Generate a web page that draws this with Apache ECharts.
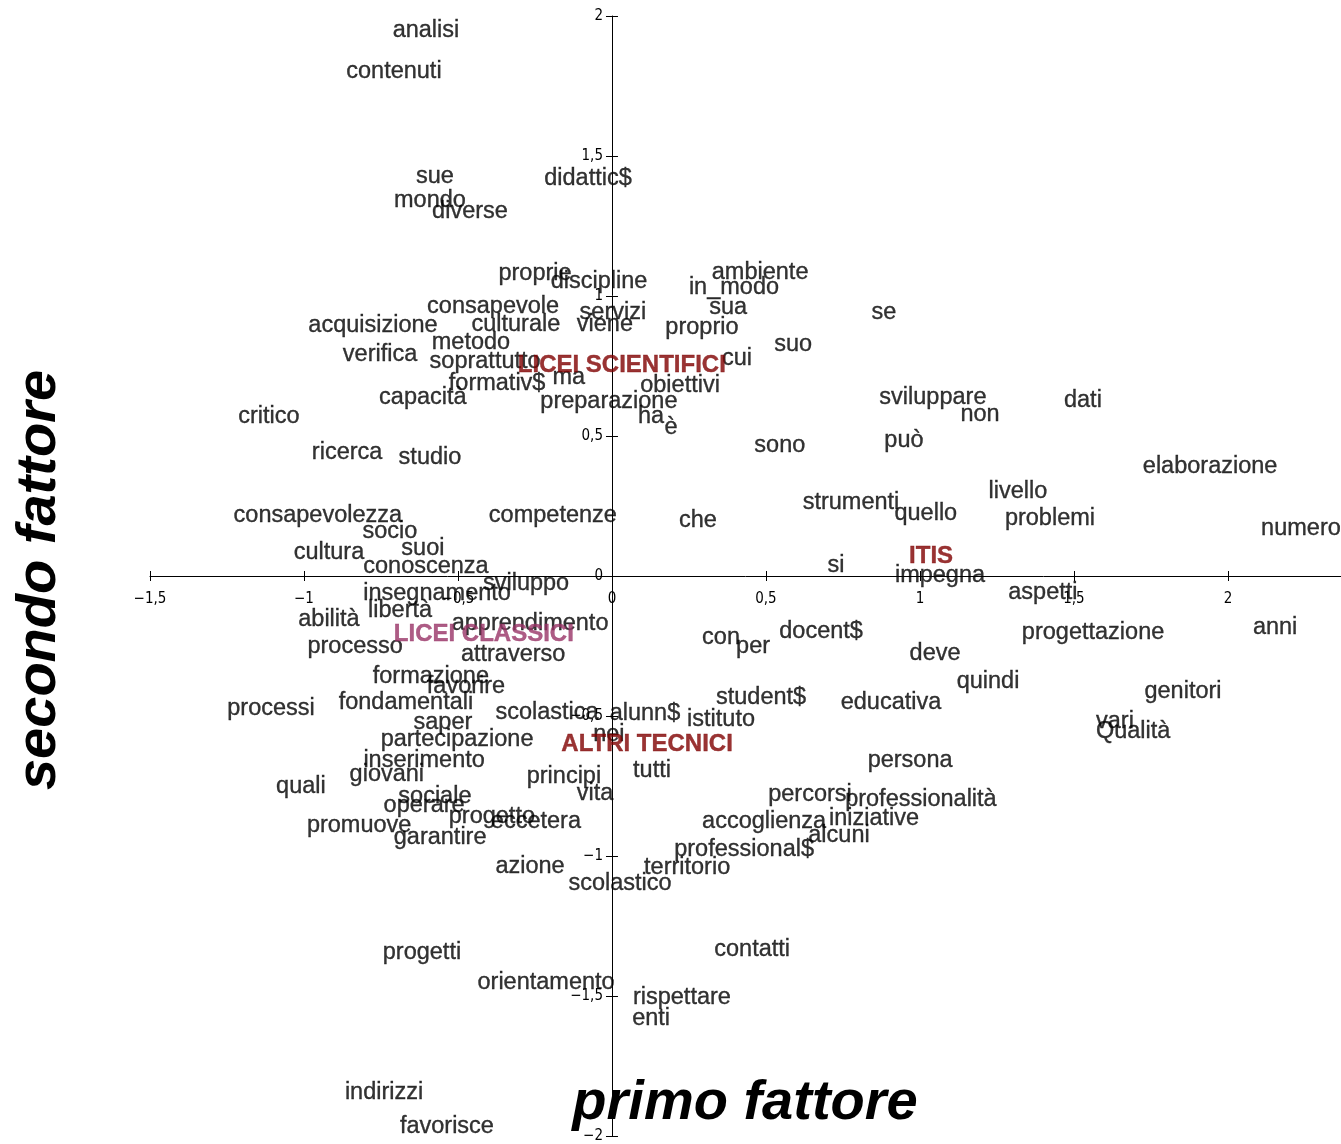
<!DOCTYPE html>
<html>
<head>
<meta charset="utf-8">
<script src="https://cdn.jsdelivr.net/npm/echarts@6/dist/echarts.min.js"></script>
<style>
html, body { margin: 0; padding: 0; background: #ffffff; }
#chart { width: 1341px; height: 1144px; }
</style>
</head>
<body>
<div id="chart"></div>
<script>
// Words projected on the first two factors
const words = [
  'analisi', 'contenuti', 'sue', 'didattic$', 'mondo', 'diverse',
  'proprie', 'discipline', 'ambiente', 'in_modo', 'consapevole', 'servizi',
  'sua', 'se', 'acquisizione', 'culturale', 'viene', 'proprio',
  'metodo', 'suo', 'verifica', 'soprattutto', 'cui', 'formativ$',
  'ma', 'obiettivi', 'capacità', 'preparazione', 'sviluppare', 'dati',
  'critico', 'non', 'ha', 'è', 'sono', 'può',
  'ricerca', 'studio', 'elaborazione', 'scuola', 'livello', 'strumenti',
  'quello', 'problemi', 'consapevolezza', 'competenze', 'che', 'numero',
  'socio', 'suoi', 'cultura', 'si', 'conoscenza', 'impegna',
  'sviluppo', 'insegnamento', 'aspetti', 'abilità', 'libertà', 'apprendimento',
  'progettazione', 'anni', 'con', 'per', 'docent$', 'processo',
  'attraverso', 'deve', 'formazione', 'favorire', 'quindi', 'student$',
  'genitori', 'processi', 'fondamentali', 'educativa', 'scolastica', 'alunn$',
  'istituto', 'saper', 'vari', 'Qualità', 'nei', 'partecipazione',
  'inserimento', 'persona', 'giovani', 'tutti', 'principi', 'quali',
  'vita', 'sociale', 'percorsi', 'professionalità', 'operare', 'progetto',
  'eccetera', 'promuove', 'accoglienza', 'iniziative', 'garantire', 'alcuni',
  'professional$', 'azione', 'territorio', 'scolastico', 'progetti', 'contatti',
  'orientamento', 'rispettare', 'enti', 'indirizzi', 'favorisce'
];
const wordX = [
  -0.604, -0.708, -0.575, -0.078, -0.591, -0.461,
  -0.250, -0.042, 0.481, 0.396, -0.386, 0.003,
  0.377, 0.883, -0.776, -0.312, -0.023, 0.292,
  -0.458, 0.588, -0.753, -0.412, 0.406, -0.373,
  -0.140, 0.221, -0.614, -0.010, 1.042, 1.529,
  -1.114, 1.195, 0.127, 0.192, 0.545, 0.948,
  -0.860, -0.591, 1.942, 2.455, 1.318, 0.776,
  1.019, 1.422, -0.955, -0.192, 0.279, 2.237,
  -0.721, -0.614, -0.919, 0.727, -0.604, 1.065,
  -0.279, -0.568, 1.399, -0.919, -0.688, -0.266,
  1.562, 2.153, 0.354, 0.458, 0.679, -0.834,
  -0.321, 1.049, -0.588, -0.474, 1.221, 0.484,
  1.854, -1.107, -0.669, 0.906, -0.211, 0.107,
  0.354, -0.549, 1.633, 1.692, -0.010, -0.503,
  -0.610, 0.968, -0.731, 0.130, -0.156, -1.010,
  -0.055, -0.575, 0.643, 1.003, -0.610, -0.390,
  -0.247, -0.821, 0.494, 0.851, -0.558, 0.737,
  0.429, -0.266, 0.244, 0.026, -0.617, 0.455,
  -0.214, 0.227, 0.127, -0.740, -0.536
];
const wordY = [
  1.954, 1.807, 1.432, 1.425, 1.346, 1.307,
  1.086, 1.057, 1.089, 1.036, 0.968, 0.946,
  0.964, 0.946, 0.900, 0.904, 0.904, 0.893,
  0.839, 0.832, 0.796, 0.771, 0.782, 0.693,
  0.714, 0.686, 0.643, 0.629, 0.643, 0.632,
  0.575, 0.582, 0.575, 0.536, 0.471, 0.489,
  0.446, 0.429, 0.396, 0.396, 0.307, 0.268,
  0.229, 0.211, 0.221, 0.221, 0.204, 0.175,
  0.164, 0.104, 0.089, 0.043, 0.039, 0.007,
  -0.021, -0.057, -0.054, -0.150, -0.118, -0.164,
  -0.196, -0.179, -0.214, -0.246, -0.193, -0.246,
  -0.275, -0.271, -0.354, -0.389, -0.371, -0.429,
  -0.407, -0.468, -0.446, -0.446, -0.482, -0.486,
  -0.507, -0.518, -0.514, -0.550, -0.561, -0.579,
  -0.654, -0.654, -0.704, -0.689, -0.711, -0.746,
  -0.771, -0.782, -0.775, -0.793, -0.814, -0.854,
  -0.871, -0.886, -0.871, -0.861, -0.929, -0.921,
  -0.971, -1.032, -1.036, -1.093, -1.339, -1.329,
  -1.446, -1.500, -1.575, -1.839, -1.961
];

// School types projected as supplementary points
const groups = ['LICEI SCIENTIFICI', 'LICEI CLASSICI', 'ALTRI TECNICI', 'ITIS'];
const groupX = [0.032, -0.416, 0.114, 1.036];
const groupY = [0.757, -0.204, -0.596, 0.075];

// Axis ranges and tick step
const xRange = [-1.5, 2.367];
const yRange = [-2, 2];
const tickStep = 0.5;

const groupColors = ['#800000', '#993366', '#800000', '#800000'];
const wordFont = '"Liberation Sans", Arial, sans-serif';
const tickFont = '"Liberation Sans Narrow", "Arial Narrow", "DejaVu Sans Condensed", sans-serif';

const fmtTick = v => String(v).replace('.', ',').replace('-', '\u2212');

const wordData = words.map((w, i) => ({ name: w, value: [wordX[i], wordY[i]] }));
const groupData = groups.map((g, i) => ({
  name: g,
  value: [groupX[i], groupY[i]],
  label: { color: groupColors[i], textBorderColor: groupColors[i] }
}));

const axisLineStyle = { color: '#000', width: 1 };

function xAxisDef(withLabels, offset) {
  return {
    type: 'value', position: 'bottom', offset: offset,
    min: xRange[0], max: xRange[1], interval: tickStep,
    axisLine: { show: withLabels, onZero: false, lineStyle: axisLineStyle },
    axisTick: { show: true, inside: !withLabels, length: 5, lineStyle: axisLineStyle },
    axisLabel: {
      show: withLabels, margin: 16, formatter: fmtTick, showMaxLabel: false,
      fontFamily: tickFont, fontSize: 15, color: '#000'
    },
    splitLine: { show: false }
  };
}
function yAxisDef(withLabels, offset) {
  return {
    type: 'value', position: 'left', offset: offset,
    min: yRange[0], max: yRange[1], interval: tickStep,
    axisLine: { show: withLabels, onZero: false, lineStyle: axisLineStyle },
    axisTick: { show: true, inside: !withLabels, length: 6, lineStyle: axisLineStyle },
    axisLabel: {
      show: withLabels, margin: 9, formatter: fmtTick,
      fontFamily: tickFont, fontSize: 15, color: '#000'
    },
    splitLine: { show: false }
  };
}

const chart = echarts.init(document.getElementById('chart'), null, { renderer: 'canvas' });

function buildOption(xOff, yOff) {
  return {
    animation: false,
    backgroundColor: '#ffffff',
    grid: { left: 150, right: 0, top: 16, bottom: 8, containLabel: false, outerBoundsMode: 'none' },
    xAxis: [xAxisDef(true, xOff), xAxisDef(false, xOff)],
    yAxis: [yAxisDef(true, yOff), yAxisDef(false, yOff)],
    series: [
      {
        type: 'scatter',
        name: 'parole',
        xAxisIndex: 0, yAxisIndex: 0,
        symbolSize: 1,
        itemStyle: { color: 'rgba(0,0,0,0)' },
        silent: true,
        emphasis: { disabled: true },
        label: {
          show: true, position: 'inside', formatter: '{b}', offset: [0, 1.5],
          fontFamily: wordFont, fontSize: 23.5, color: '#000',
          textBorderColor: '#000', textBorderWidth: 0.35
        },
        data: wordData,
        z: 3
      },
      {
        type: 'scatter',
        name: 'tipi di scuola',
        xAxisIndex: 0, yAxisIndex: 0,
        symbolSize: 1,
        itemStyle: { color: 'rgba(0,0,0,0)' },
        silent: true,
        emphasis: { disabled: true },
        label: {
          show: true, position: 'inside', formatter: '{b}', offset: [0, 1.5],
          fontFamily: wordFont, fontSize: 24, fontWeight: 'bold',
          textBorderWidth: 0.4
        },
        data: groupData,
        z: 4
      }
    ],
    graphic: [
      {
        type: 'text', x: 745, y: 1104, silent: true,
        style: {
          text: 'primo fattore', fill: '#000',
          font: 'italic bold 56px "Liberation Sans", Arial, sans-serif',
          textAlign: 'center', textVerticalAlign: 'middle'
        }
      },
      {
        type: 'text', x: 40, y: 580, rotation: Math.PI / 2, silent: true,
        style: {
          text: 'secondo fattore', fill: '#000',
          font: 'italic bold 56px "Liberation Sans", Arial, sans-serif',
          textAlign: 'center', textVerticalAlign: 'middle'
        }
      }
    ]
  };
}

// First pass: lay out the grid, then move both axes so they cross at the origin
chart.setOption(buildOption(0, 0));
const origin = chart.convertToPixel({ gridIndex: 0 }, [0, 0]);
const corner = chart.convertToPixel({ gridIndex: 0 }, [xRange[0], yRange[0]]);
const xOffset = -(corner[1] - origin[1]);
const yOffset = -(origin[0] - corner[0]);
chart.setOption(buildOption(xOffset, yOffset));
</script>
</body>
</html>
